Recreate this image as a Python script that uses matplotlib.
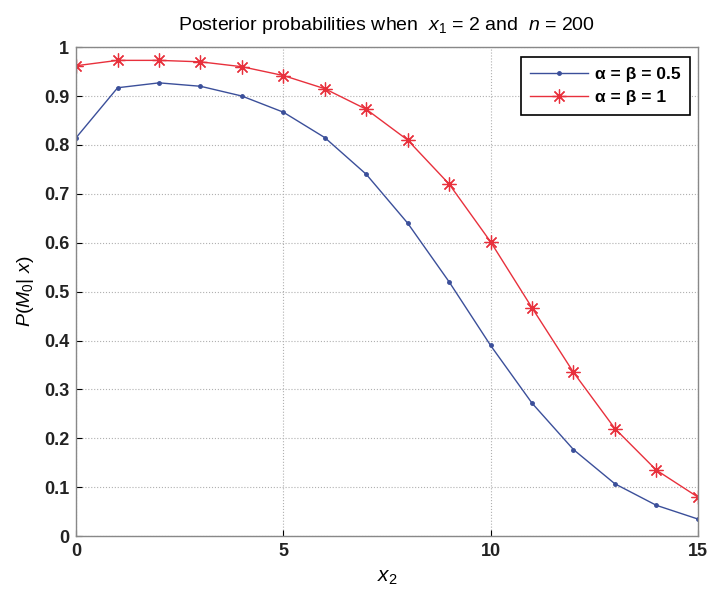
import numpy as np
import matplotlib
matplotlib.use("Agg")
import matplotlib.pyplot as plt

plt.rcParams['font.family'] = ['Liberation Sans', 'DejaVu Sans']
plt.rcParams['mathtext.fontset'] = 'custom'
plt.rcParams['mathtext.rm'] = 'Liberation Sans'
plt.rcParams['mathtext.it'] = 'Liberation Sans:italic'

# posterior probability of M0 for each x2
x2 = np.arange(0, 16)
p_half = [0.815, 0.917, 0.927, 0.920, 0.900, 0.867, 0.815, 0.740,
          0.640, 0.520, 0.390, 0.272, 0.177, 0.107, 0.063, 0.035]
p_one = [0.962, 0.973, 0.973, 0.970, 0.960, 0.942, 0.915, 0.873,
         0.810, 0.720, 0.602, 0.467, 0.335, 0.220, 0.135, 0.080]
labels = ['α = β = 0.5', 'α = β = 1']

fig = plt.figure(figsize=(7.12, 5.97), dpi=100)
ax = fig.add_axes([0.107, 0.102, 0.873, 0.819])

ax.plot(x2, p_half, color='#3b4f9a', lw=1.0, marker='.', ms=5, label=labels[0])
ax.plot(x2, p_one, color='#e8303c', lw=1.0, marker=(8, 2, 0), ms=10,
        markeredgewidth=0.9, markeredgecolor='#e8303c', label=labels[1])

ax.set_xlim(0, 15)
ax.set_ylim(0, 1)
ax.set_xticks([0, 5, 10, 15])
ax.set_yticks(np.arange(0, 1.01, 0.1))
ax.set_yticklabels(['0', '0.1', '0.2', '0.3', '0.4', '0.5', '0.6', '0.7', '0.8', '0.9', '1'])
ax.tick_params(labelsize=13, direction='in', length=4, width=0.8, pad=5)
for lab in ax.get_xticklabels() + ax.get_yticklabels():
    lab.set_fontweight('bold')
    lab.set_color('#222222')
ax.grid(True, ls=':', color='#b0b0b0', lw=0.8)
for s in ax.spines.values():
    s.set_color('#888888')
    s.set_linewidth(1.0)

ax.set_xlabel(r'$x_2$', fontsize=15, labelpad=6)
ax.set_ylabel(r'$P(M_0|\ x)$', fontsize=14, labelpad=6)
ax.set_title(r'Posterior probabilities when  $x_1$ = 2 and  $n$ = $200$', fontsize=14, pad=12)

leg = ax.legend(loc='upper right', fontsize=12.5, fancybox=False, framealpha=1,
                edgecolor='black', borderpad=0.55, handlelength=3.3, handletextpad=0.4,
                labelspacing=0.5, borderaxespad=0, bbox_to_anchor=(0.987, 0.98))
leg.get_frame().set_linewidth(1.2)
for t in leg.get_texts():
    t.set_fontweight('bold')

fig.savefig('out.png', dpi=100)
